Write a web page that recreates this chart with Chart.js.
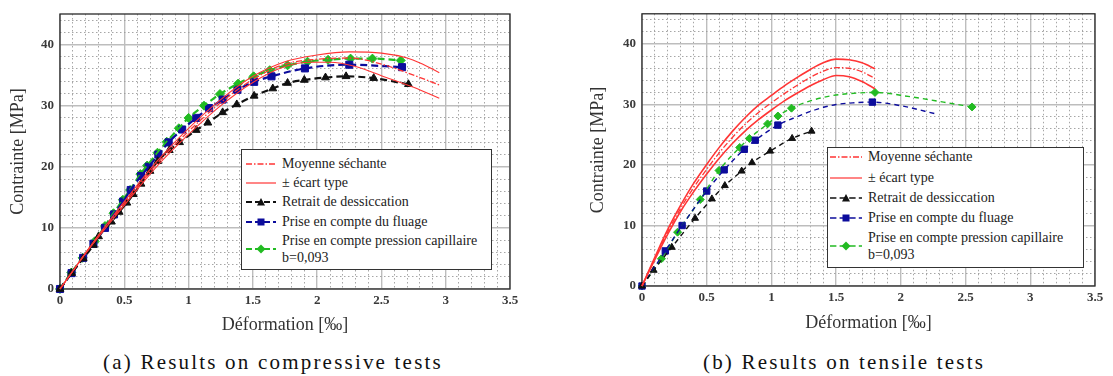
<!DOCTYPE html>
<html><head><meta charset="utf-8">
<script src="https://cdn.jsdelivr.net/npm/chart.js@4.4.1/dist/chart.umd.min.js"></script>
<style>
html,body{margin:0;padding:0;background:#fff;width:1113px;height:376px;overflow:hidden;position:relative;font-family:"Liberation Serif",serif;}
canvas{position:absolute;top:0;}
.legend{position:absolute;background:#fff;border:1.5px solid #333;box-sizing:border-box;font-size:14px;color:#222;font-family:"Liberation Serif",serif;}
.legend .t{position:absolute;white-space:nowrap;line-height:16px;transform:translateY(-50%);}
.cap{position:absolute;font-family:"Liberation Serif",serif;font-size:21px;letter-spacing:2.2px;color:#111;white-space:nowrap;transform:translate(-50%,-50%);}
</style></head>
<body>
<canvas id="c1" width="540" height="340" style="left:0px"></canvas>
<canvas id="c2" width="553" height="340" style="left:560px"></canvas>
<div id="lg1" class="legend" style="left:241px;top:149px;width:251px;height:121px"></div>
<div id="lg2" class="legend" style="left:827px;top:147px;width:257px;height:121px"></div>
<div class="cap" style="left:273px;top:362px">(a) Results on compressive tests</div>
<div class="cap" style="left:844px;top:362px">(b) Results on tensile tests</div>
<script>
// ---------- tick labels ----------
const xTickLabels = ['0','0.5','1','1.5','2','2.5','3','3.5'];
const yTickLabels = ['0','10','20','30','40'];
const legendLabels = ['Moyenne séchante','± écart type','Retrait de dessiccation','Prise en compte du fluage','Prise en compte pression capillaire','b=0,093'];

// ---------- (a) compressive tests ----------
const compMeanX = [0,0.25,0.5,0.75,1.0,1.25,1.5,1.75,2.0,2.25,2.5,2.75,2.95];
const compMeanY = [0,7.3,14.0,20.4,25.8,30.5,34.3,36.8,37.6,37.8,36.8,35.0,33.4];
const compUpX = [0,0.25,0.5,0.75,1.0,1.25,1.5,1.75,2.0,2.25,2.5,2.7,2.8,2.95];
const compUpY = [0,7.4,14.3,20.8,26.3,31.0,34.8,37.2,38.3,38.8,38.6,37.8,37.0,35.4];
const compLowX = [0,0.25,0.5,0.75,1.0,1.25,1.5,1.75,1.95,2.1,2.3,2.5,2.75,2.95];
const compLowY = [0,7.2,13.7,20.0,25.3,30.0,33.8,36.4,37.1,37.1,36.4,34.9,33.0,31.2];
const compShrinkX = [0,0.09,0.18,0.26,0.30,0.40,0.46,0.52,0.57,0.63,0.70,0.76,0.85,0.93,1.06,1.15,1.265,1.375,1.51,1.655,1.77,1.90,2.065,2.225,2.44,2.71];
const compShrinkY = [0,2.6,5.0,7.2,8.6,11.0,12.6,14.1,15.5,17.2,19.3,20.9,22.7,24.0,26.0,27.2,28.9,30.2,31.6,32.8,33.7,34.2,34.6,34.8,34.5,33.5];
const compCreepX = [0,0.09,0.18,0.26,0.35,0.42,0.49,0.55,0.63,0.69,0.765,0.845,0.95,1.06,1.16,1.265,1.38,1.51,1.645,1.905,2.25,2.66];
const compCreepY = [0,2.6,5.1,7.4,10.0,12.2,14.3,16.2,18.5,20.0,22.0,24.0,26.1,28.0,29.6,31.0,32.6,33.9,34.8,36.1,36.7,36.3];
const compCapX = [0,0.088,0.176,0.27,0.35,0.416,0.489,0.545,0.625,0.678,0.758,0.83,0.924,1.0,1.12,1.244,1.385,1.506,1.631,1.77,1.925,2.085,2.26,2.43,2.65];
const compCapY = [0,2.7,5.1,7.8,10.3,12.4,14.6,16.2,18.8,20.2,22.3,24.1,26.3,28.0,30.0,31.9,33.6,34.8,35.8,36.6,37.2,37.5,37.7,37.7,37.4];

// ---------- (b) tensile tests ----------
const tensRedX = [0,0.1,0.2,0.3,0.4,0.5,0.6,0.7,0.8,0.9,1.0,1.1,1.2,1.3,1.4,1.5,1.6,1.7,1.8];
const tensMeanY = [0,4.6,9.0,12.9,16.3,19.3,22.1,24.6,26.8,28.7,30.3,31.8,33.2,34.5,35.5,36.1,36.0,35.4,34.3];
const tensUpY = [0,4.8,9.4,13.4,17.0,20.1,23.0,25.6,27.9,29.9,31.5,33.1,34.5,35.8,36.9,37.5,37.4,36.9,35.9];
const tensLowY = [0,4.4,8.6,12.4,15.6,18.5,21.2,23.6,25.7,27.5,29.1,30.6,31.9,33.1,34.1,34.8,34.6,33.8,32.6];
const tensShrinkX = [0,0.09,0.23,0.41,0.54,0.64,0.77,0.85,0.99,1.16,1.31];
const tensShrinkY = [0,2.6,6.4,11.2,14.4,16.6,19.0,20.4,22.3,24.4,25.6];
const tensCreepX = [0,0.18,0.31,0.50,0.635,0.79,0.875,1.05,1.78];
const tensCreepY = [0,5.8,10.0,15.7,19.2,22.6,24.1,26.6,30.4];
const tensCreepExtraX = [1.2,1.35,1.5,1.65,2.0,2.28];
const tensCreepExtraY = [28.0,29.2,30.0,30.3,29.8,28.4];
const tensCapX = [0,0.15,0.275,0.45,0.595,0.755,0.83,0.97,1.05,1.155,1.80,2.55];
const tensCapY = [0,4.5,8.9,14.3,19.1,22.9,24.4,26.8,28.1,29.4,32.0,29.6];
const tensCapExtraX = [1.3,1.45,1.6,2.07,2.33];
const tensCapExtraY = [30.6,31.4,31.8,31.3,30.4];

// ---------- helpers ----------
const RED='#ff3535', BLUE='#0c0c9c', GREEN='#22bb22', BLACK='#111111';
function pts(xs, ys){ return xs.map((x,i)=>({x:x, y:ys[i]})); }
function merged(ax, ay, bx, by){ const p = pts(ax,ay).concat(pts(bx,by)); p.sort((a,b)=>a.x-b.x); return p; }
function lineDs(data, color, width, dash){
  return {data:data, borderColor:color, borderWidth:width, borderDash:dash, pointRadius:0, fill:false,
          cubicInterpolationMode:'monotone', clip:false};
}
function markDs(data, color, style, r){
  return {data:data, showLine:false, pointRadius:r, pointStyle:style, pointBackgroundColor:color,
          pointBorderColor:color, pointBorderWidth:1, clip:false};
}
const frame = {id:'frame', beforeDatasetsDraw(chart){
  const a = chart.chartArea, c = chart.ctx; c.save(); c.strokeStyle='#2a2a2a'; c.lineWidth=1.3;
  c.strokeRect(a.left, a.top, a.right-a.left, a.bottom-a.top); c.restore(); }};

const majorXVals = xTickLabels.map(Number), majorYVals = yTickLabels.map(Number);
function isMajorX(v){ return majorXVals.some(m=>Math.abs(m-v)<1e-6); }
function isMajorY(v){ return majorYVals.some(m=>Math.abs(m-v)<1e-6); }

function makeOptions(g){
  const tickFont = {family:'Liberation Serif', size:13, weight:'bold'};
  return {
    responsive:false, animation:false, devicePixelRatio:1,
    layout:{padding:{left:0, right:g.padR, top:g.padT, bottom:0}},
    plugins:{legend:{display:false}, tooltip:{enabled:false}},
    scales:{
      x:{type:'linear', min:0, max:3.5,
         afterBuildTicks:s=>{ const t=[]; for(let i=0;i<=35;i++) t.push({value:i/10}); s.ticks=t; },
         afterFit:s=>{ s.height=g.xH; },
         ticks:{autoSkip:false, maxRotation:0, padding:4, font:tickFont, color:'#3a3a3a',
                callback:v=> isMajorX(v) ? xTickLabels[majorXVals.findIndex(m=>Math.abs(m-v)<1e-6)] : ''},
         grid:{drawTicks:false, color:c=> (c.tick && isMajorX(c.tick.value)) ? '#bdbdbd' : '#9c9c9c',
               lineWidth:c=> (c.tick && isMajorX(c.tick.value)) ? 1.4 : 0.9},
         border:{display:false, dash:c=> (c.tick && isMajorX(c.tick.value)) ? [] : [1.5,2.5]},
         title:{display:true, text:'Déformation [‰]', font:{family:'Liberation Serif', size:18}, color:'#333',
                padding:{top:0, bottom:g.xTitlePad}}
      },
      y:{type:'linear', min:0, max:45,
         afterBuildTicks:s=>{ const t=[]; for(let i=0;i<=44;i+=2) t.push({value:i}); s.ticks=t; },
         afterFit:s=>{ s.width=g.yW; },
         ticks:{autoSkip:false, padding:6, font:tickFont, color:'#3a3a3a',
                callback:v=> isMajorY(v) ? yTickLabels[majorYVals.indexOf(v)] : ''},
         grid:{drawTicks:false, color:c=> (c.tick && isMajorY(c.tick.value)) ? '#bdbdbd' : '#9c9c9c',
               lineWidth:c=> (c.tick && isMajorY(c.tick.value)) ? 1.4 : 0.9},
         border:{display:false, dash:c=> (c.tick && isMajorY(c.tick.value)) ? [] : [1.5,2.5]},
         title:{display:true, text:'Contrainte [MPa]', font:{family:'Liberation Serif', size:18}, color:'#333',
                padding:{top:g.yTitlePad, bottom:0}}
      }
    }
  };
}

// ---------- chart (a) ----------
new Chart(document.getElementById('c1'), {
  type:'line',
  data:{datasets:[
    lineDs(pts(compUpX,compUpY), RED, 1.1, []),
    lineDs(pts(compLowX,compLowY), RED, 1.1, []),
    lineDs(pts(compMeanX,compMeanY), RED, 1.3, [6,2,1.5,2]),
    lineDs(pts(compShrinkX,compShrinkY), BLACK, 2.2, [7,4]),
    lineDs(pts(compCreepX,compCreepY), BLUE, 2.2, [7,4]),
    lineDs(pts(compCapX,compCapY), GREEN, 2.2, [7,4]),
    markDs(pts(compShrinkX,compShrinkY), BLACK, 'triangle', 4.5),
    markDs(pts(compCreepX,compCreepY), BLUE, 'rect', 5),
    markDs(pts(compCapX,compCapY), GREEN, 'rectRot', 4.5)
  ]},
  options: makeOptions({padR:30, padT:14, xH:51, yW:60, xTitlePad:4, yTitlePad:7}),
  plugins:[frame]
});

// ---------- chart (b) ----------
new Chart(document.getElementById('c2'), {
  type:'line',
  data:{datasets:[
    lineDs(pts(tensRedX,tensUpY), RED, 1.6, []),
    lineDs(pts(tensRedX,tensLowY), RED, 1.6, []),
    lineDs(pts(tensRedX,tensMeanY), RED, 1.3, [6,2,1.5,2]),
    lineDs(pts(tensShrinkX,tensShrinkY), BLACK, 1.4, [5,4]),
    lineDs(merged(tensCreepX,tensCreepY,tensCreepExtraX,tensCreepExtraY), BLUE, 1.4, [5,4]),
    lineDs(merged(tensCapX,tensCapY,tensCapExtraX,tensCapExtraY), GREEN, 1.4, [5,4]),
    markDs(pts(tensShrinkX,tensShrinkY), BLACK, 'triangle', 4),
    markDs(pts(tensCreepX,tensCreepY), BLUE, 'rect', 4.5),
    markDs(pts(tensCapX,tensCapY), GREEN, 'rectRot', 4)
  ]},
  options: makeOptions({padR:18, padT:7, xH:54, yW:82, xTitlePad:6, yTitlePad:27}),
  plugins:[frame]
});

// ---------- legends ----------
function sample(kind, color, w, thick){
  const h=12, m=h/2; let s='<svg width="'+w+'" height="'+h+'" xmlns="http://www.w3.org/2000/svg" style="display:block">';
  if(kind==='dashdot') s+='<line x1="0" y1="'+m+'" x2="'+w+'" y2="'+m+'" stroke="'+color+'" stroke-width="1.3" stroke-dasharray="6,2,1.5,2"/>';
  else if(kind==='solid') s+='<line x1="0" y1="'+m+'" x2="'+w+'" y2="'+m+'" stroke="'+color+'" stroke-width="1.2"/>';
  else {
    s+='<line x1="0" y1="'+m+'" x2="'+w+'" y2="'+m+'" stroke="'+color+'" stroke-width="'+thick+'" stroke-dasharray="'+(w/5)+','+(w/10)+'"/>';
    const cx=w/2;
    if(kind==='tri') s+='<polygon points="'+(cx-4)+','+(m+3.5)+' '+(cx+4)+','+(m+3.5)+' '+cx+','+(m-4)+'" fill="'+color+'"/>';
    if(kind==='sq') s+='<rect x="'+(cx-3.5)+'" y="'+(m-3.5)+'" width="7" height="7" fill="'+color+'"/>';
    if(kind==='dia') s+='<polygon points="'+(cx-4.5)+','+m+' '+cx+','+(m-4.5)+' '+(cx+4.5)+','+m+' '+cx+','+(m+4.5)+'" fill="'+color+'"/>';
  }
  return s+'</svg>';
}
function buildLegend(id, g){
  const el=document.getElementById(id); let html='';
  const kinds=[['dashdot',RED],['solid',RED],['tri',BLACK],['sq',BLUE],['dia',GREEN]];
  kinds.forEach((k,i)=>{
    const y = i<4 ? g.rows[i] : (g.rows[4]+g.rows[5])/2;
    html+='<div style="position:absolute;left:'+g.sx+'px;top:'+(y-6)+'px;line-height:0">'+sample(k[0],k[1],g.sw,g.thick)+'</div>';
  });
  for(let i=0;i<6;i++) html+='<div class="t" style="left:'+g.tx+'px;top:'+g.rows[i]+'px">'+legendLabels[i]+'</div>';
  el.innerHTML=html;
}
buildLegend('lg1',{rows:[13.5,33,52,71.5,91,107.5], sx:4, sw:30, tx:40, thick:2.2});
buildLegend('lg2',{rows:[9,29.5,50,69.5,89.5,107], sx:2, sw:32, tx:40, thick:1.4});
</script>
</body></html>
